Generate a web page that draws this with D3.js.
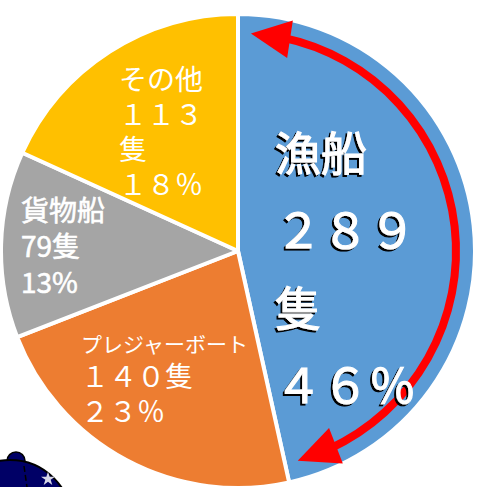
<!DOCTYPE html>
<html>
<head>
<meta charset="utf-8">
<script src="https://cdn.jsdelivr.net/npm/d3@7"></script>
<style>
  body { margin: 0; background: #fff; }
  svg { display: block; }
</style>
</head>
<body>
<div id="chart"></div>
<script>

//
// DATA
//

const categories = ['漁船', 'プレジャーボート', '貨物船', 'その他'];
const counts = [289, 140, 79, 113];
const colors = ['#5B9BD5', '#ED7D31', '#A5A5A5', '#FFC000'];
const labelLines = [
    ['漁船', '２８９', '隻', '４６％'],
    ['プレジャーボート', '１４０隻', '２３％'],
    ['貨物船', '79隻', '13%'],
    ['その他', '１１３', '隻', '１８％']
];

//
// CHART
//

const width = 478;
const height = 487;
const cx = 238;
const cy = 251;
const radius = 237;
const font = '"Noto Sans CJK JP", "Noto Sans", sans-serif';

const svg = d3.select('#chart')
    .append('svg')
        .attr('width', width)
        .attr('height', height)
        .attr('viewBox', [0, 0, width, height]);

svg.append('rect')
    .attr('width', width)
    .attr('height', height)
    .attr('fill', '#fff');

// black drop shadow for the big label
const shadow = svg.append('defs')
    .append('filter')
        .attr('id', 'shadow')
        .attr('x', '-10%').attr('y', '-10%')
        .attr('width', '120%').attr('height', '130%');
shadow.append('feOffset')
    .attr('in', 'SourceAlpha')
    .attr('dx', -2)
    .attr('dy', 2)
    .attr('result', 'off');
const merge = shadow.append('feMerge');
merge.append('feMergeNode').attr('in', 'off');
merge.append('feMergeNode').attr('in', 'SourceGraphic');

// clipart peeking in at bottom left
const art = svg.append('g');
art.append('circle')
    .attr('cx', 16).attr('cy', 461).attr('r', 9)
    .attr('fill', '#000066').attr('stroke', '#000').attr('stroke-width', 1.5);
art.append('circle')
    .attr('cx', 10).attr('cy', 522).attr('r', 62)
    .attr('fill', '#000066').attr('stroke', '#000').attr('stroke-width', 2);
art.append('line')
    .attr('x1', 24).attr('y1', 466).attr('x2', 27).attr('y2', 487)
    .attr('stroke', '#000').attr('stroke-width', 1.5).attr('stroke-dasharray', '6,3');
art.append('path')
    .attr('transform', 'translate(48,479)')
    .attr('d', d3.symbol(d3.symbolStar, 60)())
    .attr('fill', '#d8d8e8');

// pie
const pie = d3.pie()
    .sort(null)
    .value(d => d);
const arc = d3.arc()
    .innerRadius(0)
    .outerRadius(radius);

const g = svg.append('g')
    .attr('transform', `translate(${cx},${cy})`);

g.selectAll('path.slice')
    .data(pie(counts))
    .join('path')
        .attr('class', 'slice')
        .attr('d', arc)
        .attr('fill', (d, i) => colors[i])
        .attr('stroke', '#fff')
        .attr('stroke-width', 4)
        .attr('stroke-linejoin', 'round');

// red double arrow round the fishing boat slice
const ar = 218;
const deg = Math.PI / 180;
const polar = (a, r) => [r * Math.sin(a), -r * Math.cos(a)];
const tipTop = 3.4 * deg, baseTop = 13.8 * deg;
const tipBot = 164.1 * deg, baseBot = 153.3 * deg;

const p = d3.path();
p.arc(0, 0, ar, baseTop - 2 * deg - Math.PI / 2, baseBot + 2 * deg - Math.PI / 2);
g.append('path')
    .attr('d', p.toString())
    .attr('fill', 'none')
    .attr('stroke', '#FF0000')
    .attr('stroke-width', 8);

function arrowHead(tipA, baseA, halfW) {
    const tip = polar(tipA, ar);
    const base = polar(baseA, ar);
    const dx = tip[0] - base[0], dy = tip[1] - base[1];
    const len = Math.hypot(dx, dy);
    const nx = -dy / len * halfW, ny = dx / len * halfW;
    return d3.line()([tip, [base[0] + nx, base[1] + ny], [base[0] - nx, base[1] - ny]]) + 'Z';
}
g.append('path')
    .attr('d', arrowHead(tipTop, baseTop, 19))
    .attr('fill', '#FF0000');
g.append('path')
    .attr('d', arrowHead(tipBot, baseBot, 19))
    .attr('fill', '#FF0000');

// labels
const labelLayout = [
    {x: 275, y: 170, step: 77.7, sizes: [46, 47, 46, 47], stroke: 1.1, shadow: true},
    {x: 81, y: 352, step: 35, sizes: [21, 28, 28], stroke: 0, shadow: false},
    {x: 21, y: 221, step: 36, sizes: [28, 28, 28], stroke: 0.6, shadow: false},
    {x: 119, y: 90, step: 35, sizes: [28, 28, 28, 28], stroke: 0, shadow: false}
];

labelLines.forEach((lines, i) => {
    const lay = labelLayout[i];
    const lab = svg.append('g')
        .attr('font-family', font)
        .attr('filter', lay.shadow ? 'url(#shadow)' : null);
    lab.selectAll('text')
        .data(lines)
        .join('text')
            .attr('x', lay.x)
            .attr('y', (d, j) => lay.y + j * lay.step)
            .attr('font-size', (d, j) => lay.sizes[j])
            .attr('fill', '#fff')
            .attr('stroke', lay.stroke ? '#fff' : null)
            .attr('stroke-width', lay.stroke || null)
            .text(d => d);
});

</script>
</body>
</html>
